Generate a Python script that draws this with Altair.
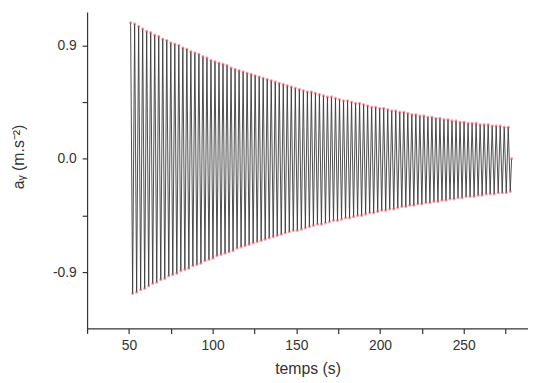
import altair as alt
import pandas as pd

# Peak times (s) and values
peak_t = [51.0, 53.4, 55.8, 58.2, 60.6, 63.0, 65.4, 67.8, 70.2, 72.6, 75.0, 77.4, 79.8, 82.2, 84.6,
          87.0, 89.4, 91.8, 94.2, 96.6, 99.0, 101.4, 103.8, 106.2, 108.6, 111.0, 113.4, 115.8, 118.2,
          120.6, 123.0, 125.4, 127.8, 130.2, 132.6, 135.0, 137.4, 139.8, 142.2, 144.6, 147.0, 149.4,
          151.8, 154.2, 156.6, 159.0, 161.4, 163.8, 166.2, 168.6, 171.0, 173.4, 175.8, 178.2, 180.6,
          183.0, 185.4, 187.8, 190.2, 192.6, 195.0, 197.4, 199.8, 202.2, 204.6, 207.0, 209.4, 211.8,
          214.2, 216.6, 219.0, 221.4, 223.8, 226.2, 228.6, 231.0, 233.4, 235.8, 238.2, 240.6, 243.0,
          245.4, 247.8, 250.2, 252.6, 255.0, 257.4, 259.8, 262.2, 264.6, 267.0, 269.4, 271.8, 274.2,
          276.6]
peak_v = [1.08, 1.07, 1.05, 1.03, 1.01, 1.00, 0.98, 0.97, 0.95, 0.94,
          0.92, 0.91, 0.90, 0.88, 0.87, 0.85, 0.84, 0.83, 0.81, 0.80,
          0.78, 0.77, 0.76, 0.75, 0.74, 0.72, 0.71, 0.70, 0.69, 0.68,
          0.67, 0.66, 0.65, 0.64, 0.63, 0.62, 0.61, 0.60, 0.59, 0.58,
          0.57, 0.56, 0.55, 0.54, 0.53, 0.53, 0.52, 0.51, 0.50, 0.49,
          0.49, 0.48, 0.47, 0.46, 0.46, 0.45, 0.44, 0.44, 0.43, 0.42,
          0.41, 0.41, 0.40, 0.40, 0.39, 0.38, 0.38, 0.37, 0.37, 0.36,
          0.35, 0.35, 0.34, 0.34, 0.33, 0.33, 0.32, 0.32, 0.31, 0.31,
          0.30, 0.30, 0.29, 0.29, 0.28, 0.28, 0.28, 0.27, 0.27, 0.27,
          0.26, 0.26, 0.26, 0.25, 0.25]
# Trough times (s) and values
trough_t = [52.2, 54.6, 57.0, 59.4, 61.8, 64.2, 66.6, 69.0, 71.4, 73.8, 76.2, 78.6, 81.0, 83.4, 85.8,
            88.2, 90.6, 93.0, 95.4, 97.8, 100.2, 102.6, 105.0, 107.4, 109.8, 112.2, 114.6, 117.0,
            119.4, 121.8, 124.2, 126.6, 129.0, 131.4, 133.8, 136.2, 138.6, 141.0, 143.4, 145.8, 148.2,
            150.6, 153.0, 155.4, 157.8, 160.2, 162.6, 165.0, 167.4, 169.8, 172.2, 174.6, 177.0, 179.4,
            181.8, 184.2, 186.6, 189.0, 191.4, 193.8, 196.2, 198.6, 201.0, 203.4, 205.8, 208.2, 210.6,
            213.0, 215.4, 217.8, 220.2, 222.6, 225.0, 227.4, 229.8, 232.2, 234.6, 237.0, 239.4, 241.8,
            244.2, 246.6, 249.0, 251.4, 253.8, 256.2, 258.6, 261.0, 263.4, 265.8, 268.2, 270.6, 273.0,
            275.4, 277.8]
trough_v = [-1.07, -1.06, -1.04, -1.03, -1.01, -0.99, -0.98, -0.96, -0.95, -0.93,
            -0.92, -0.91, -0.89, -0.88, -0.87, -0.85, -0.84, -0.83, -0.81, -0.80,
            -0.79, -0.77, -0.76, -0.75, -0.74, -0.73, -0.71, -0.70, -0.69, -0.68,
            -0.67, -0.66, -0.65, -0.64, -0.63, -0.62, -0.61, -0.60, -0.59, -0.58,
            -0.57, -0.57, -0.56, -0.55, -0.54, -0.53, -0.52, -0.52, -0.51, -0.50,
            -0.49, -0.49, -0.48, -0.47, -0.47, -0.46, -0.45, -0.45, -0.44, -0.43,
            -0.43, -0.42, -0.41, -0.41, -0.40, -0.40, -0.39, -0.38, -0.38, -0.37,
            -0.37, -0.36, -0.36, -0.35, -0.35, -0.34, -0.34, -0.33, -0.33, -0.32,
            -0.32, -0.31, -0.31, -0.30, -0.30, -0.30, -0.29, -0.29, -0.28, -0.28,
            -0.28, -0.27, -0.27, -0.27, -0.26]
end_t = [278.6]
end_v = [0.0]

x_ticks = [25, 50, 75, 100, 125, 150, 175, 200, 225, 250, 275]
y_ticks = [-0.9, -0.45, 0.0, 0.45, 0.9]

rows = [{"t": t, "a": v} for t, v in zip(peak_t, peak_v)]
rows += [{"t": t, "a": v} for t, v in zip(trough_t, trough_v)]
rows += [{"t": t, "a": v} for t, v in zip(end_t, end_v)]
df = pd.DataFrame(rows).sort_values("t").reset_index(drop=True)

x_enc = alt.X("t:Q", scale=alt.Scale(domain=[25, 288.4], nice=False, zero=False),
              axis=alt.Axis(values=x_ticks, title="temps (s)",
                            labelExpr="datum.value % 50 == 0 ? toString(datum.value) : ''",
                            labelPadding=5, titleY=46, titleBaseline="alphabetic"))
y_enc = alt.Y("a:Q", scale=alt.Scale(domain=[-1.347, 1.163], nice=False, zero=False),
              axis=alt.Axis(values=y_ticks, title="aᵧ (m.s⁻²)",
                            labelExpr="abs(datum.value) > 0.3 && abs(datum.value) < 0.6 ? '' : (datum.value < 0 ? '-' : '') + format(abs(datum.value), '.1f')",
                            labelPadding=6, titleAngle=270, titleX=-64, titleY=146,
                            titleBaseline="alphabetic", titleAlign="center"))

line = alt.Chart(df).mark_line(color="#3a3a3a", strokeWidth=0.9).encode(x=x_enc, y=y_enc, order="t:Q")
pts = alt.Chart(df).mark_circle(color="#e84a55", size=10, opacity=0.5).encode(x="t:Q", y="a:Q")

chart = alt.layer(line, pts).properties(
    width=446, height=320, autosize="none",
    padding={"left": 80, "top": 2, "right": 0, "bottom": 50},
).configure_view(stroke=None).configure_axis(
    grid=False, domainColor="#333333", domainWidth=1.2, tickColor="#333333", tickWidth=1.2,
    tickSize=5, labelFont="Liberation Sans", labelFontSize=14, labelColor="#333333",
    titleFont="Liberation Sans", titleFontSize=16, titleFontWeight="normal", titleColor="#333333",
)

chart.save("out.html", embed_options={"renderer": "svg", "actions": False})
